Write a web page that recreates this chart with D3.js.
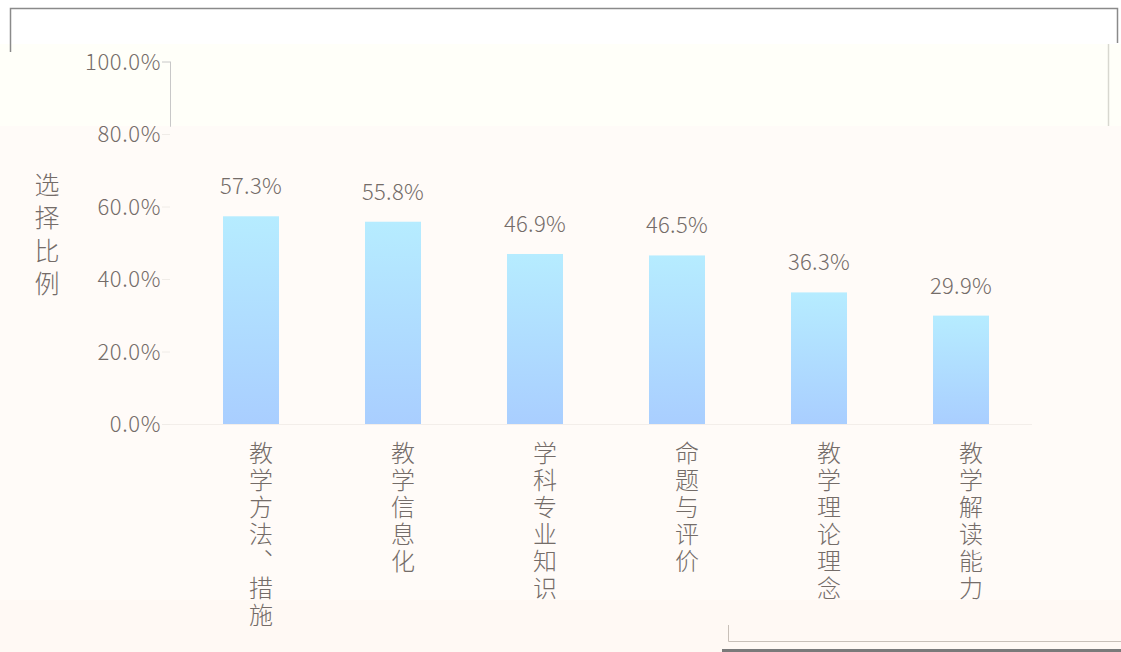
<!DOCTYPE html>
<html><head><meta charset="utf-8">
<script src="https://cdn.jsdelivr.net/npm/d3@7/dist/d3.min.js"></script>
<style>
html,body{margin:0;padding:0;background:#fffbf8;}
svg{display:block;}
text{font-family:"Noto Sans CJK SC","Noto Sans",sans-serif;fill:#746c68;font-weight:300;}
</style></head>
<body>
<svg id="c" width="1121" height="652"></svg>
<script>
const categories = ["教学方法、措施","教学信息化","学科专业知识","命题与评价","教学理论理念","教学解读能力"];
const values = [57.3, 55.8, 46.9, 46.5, 36.3, 29.9];
const yTicks = [0, 20, 40, 60, 80, 100];
const yTitle = "选择比例";

const W = 1121, H = 652;
const svg = d3.select("#c");
const m = {left:180, right:89, top:61.5, bottom:228};

// background zones
svg.append("rect").attr("x",0).attr("y",0).attr("width",W).attr("height",H).attr("fill","#fffbf8");
svg.append("rect").attr("x",0).attr("y",0).attr("width",W).attr("height",44).attr("fill","#ffffff");
svg.append("rect").attr("x",0).attr("y",44).attr("width",W).attr("height",82).attr("fill","#fffff9");
svg.append("rect").attr("x",0).attr("y",600).attr("width",W).attr("height",52).attr("fill","#fff9f4");
// frame lines (top)
svg.append("path").attr("d","M10.5,52 V8.5 H1117.5 V43").attr("fill","none").attr("stroke","#8a8a8a").attr("stroke-width",1.5);
svg.append("line").attr("x1",1108.5).attr("x2",1108.5).attr("y1",44).attr("y2",126).attr("stroke","#d8d8d0").attr("stroke-width",1.5);
// bottom frame
svg.append("path").attr("d","M728.5,625 V641.5 H1121").attr("fill","none").attr("stroke","#c8c0b8").attr("stroke-width",1);
svg.append("rect").attr("x",722).attr("y",649).attr("width",399).attr("height",3).attr("fill","#7a7a7a");

const x = d3.scaleBand().domain(categories).range([m.left, W - m.right]).paddingInner(0.6056).paddingOuter(0.3028);
const y = d3.scaleLinear().domain([0,100]).range([H - m.bottom, m.top]);

// gradient
const defs = svg.append("defs");
const g = defs.append("linearGradient").attr("id","bg").attr("x1",0).attr("y1",0).attr("x2",0).attr("y2",1);
g.append("stop").attr("offset","0%").attr("stop-color","#b6ecff");
g.append("stop").attr("offset","100%").attr("stop-color","#a9ceff");

// y axis
const yAxis = d3.axisLeft(y).tickValues(yTicks).tickFormat(d => d.toFixed(1) + "%").tickSize(8).tickPadding(1);
const ya = svg.append("g").attr("transform",`translate(${m.left-10},0)`).call(yAxis);
ya.select(".domain").remove();
ya.selectAll(".tick line").attr("stroke","#f0ece8");
ya.selectAll(".tick text").style("font-size","22px").style("letter-spacing","0.6px").attr("fill","#746c68").attr("dy","0.35em");
ya.selectAll(".tick").filter(d => d===100).select("line").attr("stroke","#c8c8c8");
// partial axis line near top
svg.append("line").attr("x1",m.left-10+0.5).attr("x2",m.left-10+0.5).attr("y1",y(100)).attr("y2",y(82)).attr("stroke","#c8c8c8").attr("stroke-width",1);

// x axis baseline
const xa = svg.append("g").attr("transform",`translate(0,${y(0)})`).call(d3.axisBottom(x).tickSize(0).tickFormat(""));
xa.select(".domain").attr("stroke","#f3eeea").attr("d",`M${m.left-10},0.5H${W-m.right}`);

// bars
svg.append("g").selectAll("rect").data(values).join("rect")
  .attr("x",(d,i)=>x(categories[i]))
  .attr("y",d=>y(d))
  .attr("width",x.bandwidth())
  .attr("height",d=>y(0)-y(d))
  .attr("fill","url(#bg)");

// value labels
svg.append("g").selectAll("text").data(values).join("text")
  .attr("x",(d,i)=>x(categories[i])+x.bandwidth()/2)
  .attr("y",d=>y(d)-22)
  .attr("text-anchor","middle")
  .style("font-size","22px").style("letter-spacing","0.3px")
  .text(d=>d.toFixed(1)+"%");

// x labels vertical
svg.append("g").selectAll("text").data(categories).join("text")
  .attr("x",d=>x(d)+x.bandwidth()/2 + 10)
  .attr("y",y(0)+17)
  .attr("writing-mode","tb")
  .style("font-size","24px").style("letter-spacing","3px")
  .text(d=>d);

// y title
svg.append("text")
  .attr("x",47).attr("y",172)
  .attr("writing-mode","tb")
  .style("font-size","25px").style("letter-spacing","8px")
  .text(yTitle);
</script>
</body></html>
